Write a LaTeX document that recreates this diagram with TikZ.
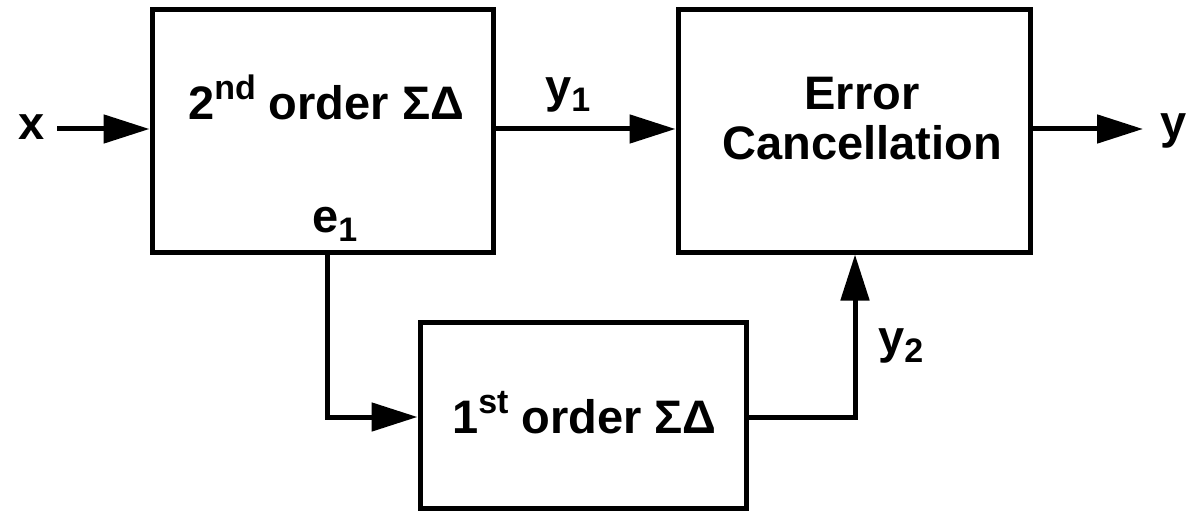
\documentclass[tikz,border=0pt]{standalone}
\usepackage{fontspec}
\setmainfont{Liberation Sans}
\usetikzlibrary{arrows.meta}
% raised and lowered small text for the order and signal indices
\newcommand{\supr}[1]{\raisebox{20pt}{\fontsize{34}{38}\selectfont #1}}
\newcommand{\subr}[1]{\raisebox{-9pt}{\fontsize{34}{38}\selectfont #1}}
\begin{document}
\begin{tikzpicture}[x=1pt,y=-1pt,
  block/.style={draw,line width=5pt,inner sep=0pt},
  lbl/.style={font=\fontsize{47}{53}\selectfont\bfseries,inner sep=0pt,anchor=base west},
  sig/.style={line width=5pt,-{Triangle[length=46pt,width=28pt]}}]
\useasboundingbox (0,0) rectangle (1188,513);
% blocks
\node[block,minimum width=341pt,minimum height=242pt] (mod2) at (322.5,131) {};
\node[block,minimum width=352pt,minimum height=242pt] (ec) at (854,131) {};
\node[block,minimum width=326pt,minimum height=186pt] (mod1) at (583,415) {};
% block texts
\node[lbl] (t2) at (188,120) {2\supr{nd} order ΣΔ};
\node[lbl] (te1) at (312,233) {e\subr{1}};
\node[lbl,anchor=base] (terr) at (862,110) {Error};
\node[lbl,anchor=base] (tcan) at (862,160) {Cancellation};
\node[lbl] (t1) at (452,433) {1\supr{st} order ΣΔ};
% signal names
\node[lbl] (x) at (18,140) {x};
\node[lbl] (y1) at (545,103) {y\subr{1}};
\node[lbl] (y) at (1160,139) {y};
\node[lbl] (y2) at (878,353) {y\subr{2}};
% wire end and corner points
\coordinate (xin) at (57,129);
\coordinate (yout) at (1143,129);
\coordinate (e1) at (327,252);
\coordinate (turnA) at (327,417);
\coordinate (turnB) at (855,417);
% connectors
\draw[sig] (xin) -- (xin -| mod2.west);
\draw[sig] (mod2.east |- xin) -- (ec.west |- xin);
\draw[sig] (ec.east |- yout) -- (yout);
\draw[sig] (e1) -- (turnA) -- (turnA -| mod1.west);
\draw[sig] (turnB -| mod1.east) -- (turnB) -- (turnB |- ec.south);
\end{tikzpicture}
\end{document}
